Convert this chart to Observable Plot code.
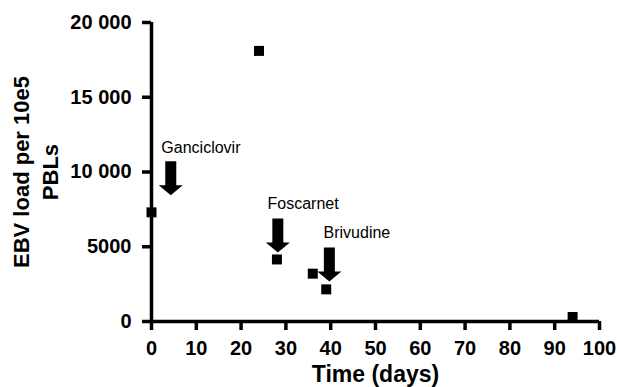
<!DOCTYPE html>
<html>
<head>
<meta charset="utf-8">
<script src="https://cdn.jsdelivr.net/npm/d3@7"></script>
<script src="https://cdn.jsdelivr.net/npm/@observablehq/plot@0.6"></script>
<style>
  html, body { margin: 0; padding: 0; background: #fff; }
  #chart svg { display: block; }
</style>
</head>
<body>
<div id="chart"></div>
<script>
// Data
const days = [0, 24, 28, 36, 39, 94];
const ebvLoad = [7300, 18100, 4150, 3200, 2150, 300];

const drugNames = ["Ganciclovir", "Foscarnet", "Brivudine"];
const drugLabelDay = [2.2, 25.9, 38.4];
const drugLabelLoad = [11600, 7900, 5950];
const arrowDay = [4.3, 28.2, 39.7];
const arrowTipLoad = [8450, 4620, 2680];

const xTicks = [0, 10, 20, 30, 40, 50, 60, 70, 80, 90, 100];
const yTicks = [0, 5000, 10000, 15000, 20000];
const yTickLabels = ["0", "5000", "10 000", "15 000", "20 000"];
const xLabel = "Time (days)";
const yLabel = "EBV load per 10e5\nPBLs";

const points = days.map((d, i) => ({day: d, load: ebvLoad[i]}));
const drugs = drugNames.map((n, i) => ({
  name: n, lx: drugLabelDay[i], ly: drugLabelLoad[i], ax: arrowDay[i], ay: arrowTipLoad[i]
}));
const yLabelMap = new Map(yTicks.map((t, i) => [t, yTickLabels[i]]));

const FONT = "'Liberation Sans', Arial, Helvetica, sans-serif";

const blockArrow = {
  draw(ctx, l) {
    const sw = 5.5, hw = 12, hl = 10;
    ctx.moveTo(-sw, 0);
    ctx.lineTo(sw, 0);
    ctx.lineTo(sw, -(l - hl));
    ctx.lineTo(hw, -(l - hl));
    ctx.lineTo(0, -l);
    ctx.lineTo(-hw, -(l - hl));
    ctx.lineTo(-sw, -(l - hl));
    ctx.closePath();
  }
};

const chart = Plot.plot({
  width: 617,
  height: 387,
  marginLeft: 151,
  marginRight: 18,
  marginTop: 22,
  marginBottom: 66,
  style: {fontFamily: FONT, color: "#000", background: "#fff"},
  x: {domain: [0, 100]},
  y: {domain: [0, 20000]},
  marks: [
    Plot.axisX({ticks: xTicks, tickSize: 9, tickPadding: 10, strokeWidth: 3.5,
      fontSize: 20, fontWeight: "bold", label: null}),
    Plot.axisY({ticks: yTicks, tickSize: 9, tickPadding: 11, strokeWidth: 3.5,
      tickFormat: d => yLabelMap.get(d), fontSize: 20, fontWeight: "bold", label: null}),
    Plot.ruleX([0], {y1: 0, y2: 20000, strokeWidth: 3.5}),
    Plot.ruleY([0], {x1: 0, x2: 100, strokeWidth: 3.5}),
    Plot.dot(points, {x: "day", y: "load", symbol: "square", r: 5.64, fill: "black", stroke: "none"}),
    Plot.vector(drugs, {x: "ax", y: "ay", length: 34, rotate: 180, anchor: "end",
      shape: blockArrow, fill: "black", stroke: "none"}),
    Plot.text(drugs, {x: "lx", y: "ly", text: "name", textAnchor: "start",
      fontSize: 16, fill: "black"}),
    Plot.text([xLabel], {frameAnchor: "bottom", lineAnchor: "middle", textAnchor: "middle",
      dy: 53, fontSize: 23, fontWeight: "bold", fill: "black"}),
    Plot.text([yLabel], {frameAnchor: "left", textAnchor: "middle", lineAnchor: "middle",
      dx: -117, rotate: -90, fontSize: 22, lineHeight: 1.3, fontWeight: "bold", fill: "black"})
  ]
});
document.getElementById("chart").appendChild(chart);
</script>
</body>
</html>
